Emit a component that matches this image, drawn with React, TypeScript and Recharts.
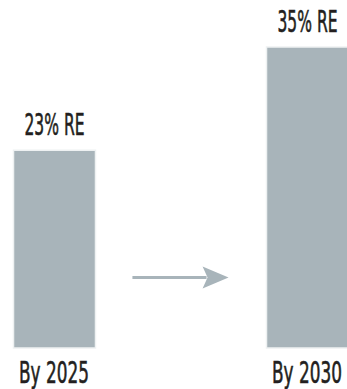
import { BarChart, Bar, XAxis, YAxis, LabelList, ReferenceLine } from "recharts"

const positions = [0, 1]
const categories = ["By 2025", "By 2030"]
const shares = [23, 35]
const shareLabels = ["23% RE", "35% RE"]

// arrow between the two bars, in data units
const arrowFrom = { x: 0.31, y: 8.2 }
const arrowTo = { x: 0.69, y: 8.2 }

const data = positions.map((x, i) => ({
  x,
  share: shares[i],
  label: shareLabels[i],
}))

const GREY = "#a8b4ba"
const INK = "#231f20"
const FONT = "'Liberation Sans Narrow', 'DejaVu Sans Condensed', sans-serif"

function Caption({ x, y, text }: { x: number; y: number; text: string }) {
  return (
    <text
      x={x}
      y={y}
      textAnchor="middle"
      fill={INK}
      stroke={INK}
      strokeWidth={0.6}
      fontFamily={FONT}
      fontSize={31}
      textLength={text.length * 10}
      lengthAdjust="spacingAndGlyphs"
    >
      {text}
    </text>
  )
}

function Tick(props: any) {
  const { x, y, payload } = props
  return <Caption x={x} y={y + 27} text={categories[payload.value]} />
}

function TopLabel(props: any) {
  const { x, y, width, value } = props
  return <Caption x={x + width / 2} y={y - 15} text={value} />
}

function Arrow(props: any) {
  const { x1, y1, x2 } = props
  const head = 26
  return (
    <g>
      <line x1={x1} y1={y1} x2={x2 - head + 4} y2={y1} stroke={GREY} strokeWidth={3} />
      <polygon
        points={`${x2},${y1} ${x2 - head},${y1 - 11} ${x2 - head + 5},${y1} ${x2 - head},${y1 + 11}`}
        fill={GREY}
      />
    </g>
  )
}

export default function App() {
  return (
    <div style={{ position: "absolute", left: 0, top: 0, background: "#fff" }}>
      <BarChart width={347} height={389} data={data} margin={{ top: 47, right: 40, bottom: 0, left: 54 }}>
        <XAxis
          type="number"
          dataKey="x"
          domain={[0, 1]}
          ticks={positions}
          axisLine={false}
          tickLine={false}
          height={41}
          tick={<Tick />}
        />
        <YAxis hide domain={[0, 35]} />
        <ReferenceLine
          segment={[arrowFrom, arrowTo]}
          shape={<Arrow />}
          ifOverflow="visible"
        />
        <Bar dataKey="share" fill={GREY} stroke="#eef1f2" strokeWidth={1.5} barSize={82} isAnimationActive={false}>
          <LabelList dataKey="label" content={<TopLabel />} />
        </Bar>
      </BarChart>
    </div>
  )
}
